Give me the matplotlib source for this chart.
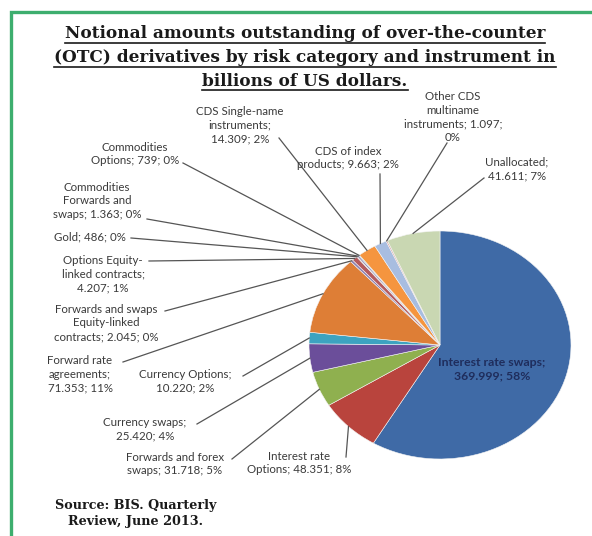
import matplotlib.pyplot as plt
from matplotlib.patches import Rectangle
from matplotlib.lines import Line2D
import numpy as np

# OTC derivatives by instrument, billions of USD (BIS Quarterly Review, June 2013)
names = ["Interest rate swaps", "Interest rate Options", "Forwards and forex swaps",
         "Currency swaps", "Currency Options", "Forward rate agreements",
         "Forwards and swaps Equity-linked contracts", "Options Equity-linked contracts",
         "Gold", "Commodities Forwards and swaps", "Commodities Options",
         "CDS Single-name instruments", "CDS of index products",
         "Other CDS multiname instruments", "Unallocated"]
amounts = [369999, 48351, 31718, 25420, 10220, 71353, 2045, 4207,
           486, 1363, 739, 14309, 9663, 1097, 41611]
amount_labels = ["369.999", "48.351", "31.718", "25.420", "10.220", "71.353", "2.045", "4.207",
                 "486", "1.363", "739", "14.309", "9.663", "1.097", "41.611"]
pct_labels = ["58%", "8%", "5%", "4%", "2%", "11%", "0%", "1%",
              "0%", "0%", "0%", "2%", "2%", "0%", "7%"]

colors = ["#3F6AA6", "#B9443D", "#8FB04F", "#6B4E9A", "#3DA3C0", "#DE7E36",
          "#8C7FB0", "#B55A5E", "#9DB06A", "#8E7BAE", "#66B3C8", "#F5953F",
          "#A8BDE0", "#D9A5A3", "#C9D7B2"]

# label text (split into lines), its centre and where the leader line starts (pixels, from top-left)
label_lines = [
    ["Interest rate swaps;", "369.999; 58%"],
    ["Interest rate", "Options; 48.351; 8%"],
    ["Forwards and forex", "swaps; 31.718; 5%"],
    ["Currency swaps;", "25.420; 4%"],
    ["Currency Options;", "10.220; 2%"],
    ["Forward rate", "agreements;", "71.353; 11%"],
    ["Forwards and swaps", "Equity-linked", "contracts; 2.045; 0%"],
    ["Options Equity-", "linked contracts;", "4.207; 1%"],
    ["Gold; 486; 0%"],
    ["Commodities", "Forwards and", "swaps; 1.363; 0%"],
    ["Commodities", "Options; 739; 0%"],
    ["CDS Single-name", "instruments;", "14.309; 2%"],
    ["CDS of index", "products; 9.663; 2%"],
    ["Other CDS", "multiname", "instruments; 1.097;", "0%"],
    ["Unallocated;", "41.611; 7%"],
]
label_pos = [(492, 369), (299, 463), (175, 464), (145, 429), (185, 381), (80, 374),
             (106, 323), (103, 274), (90, 237), (97, 201), (135, 154), (240, 125),
             (348, 158), (453, 117), (517, 169)]
leader_start = [None, (346, 457), (232, 459), (197, 424), (243, 376), (123, 362),
                (165, 311), (149, 261), (131, 238), (147, 219), (183, 163), (279, 138),
                (380, 174), (447, 143), (484, 178)]

W, H = 592, 536
CX, CY, RX, RY = 440, 345, 131, 114


def to_data(px, py):
    return (px - CX) / RX, (CY - py) / RY


plt.rcParams['font.family'] = ['Lato', 'DejaVu Sans']
fig = plt.figure(figsize=(W / 100, H / 100), dpi=100)
ax = fig.add_axes([0, 0, 1, 1])

wedges, _ = ax.pie(amounts, colors=colors, startangle=90, counterclock=False,
                   wedgeprops=dict(linewidth=0.4, edgecolor="#f4f4f4"))
ax.set_aspect('auto')
ax.set_xlim(to_data(0, 0)[0], to_data(W, 0)[0])
ax.set_ylim(to_data(0, H)[1], to_data(0, 0)[1])
ax.axis('off')

for i, w in enumerate(wedges):
    tx, ty = to_data(*label_pos[i])
    if i == 0:
        ax.text(tx, ty, "\n".join(label_lines[i]), ha='center', va='center', fontsize=8.8,
                fontweight='bold', color="#1F2D5C", linespacing=1.25)
        continue
    ax.text(tx, ty, "\n".join(label_lines[i]), ha='center', va='center', fontsize=8.3,
            color="#3a3a3a", linespacing=1.32)
    mid = np.deg2rad((w.theta1 + w.theta2) / 2)
    sx, sy = to_data(*leader_start[i])
    ax.plot([sx, np.cos(mid)], [sy, np.sin(mid)], color="#555555", linewidth=0.9)

# title lines, each underlined
title_lines = ["Notional amounts outstanding of over-the-counter",
               "(OTC) derivatives by risk category and instrument in",
               "billions of US dollars."]
title_y = [34, 58, 81]
title_objs = []
for line, y in zip(title_lines, title_y):
    t = fig.text(305 / W, 1 - y / H, line, ha='center', va='center', fontsize=12.2,
                 fontweight='bold', family='DejaVu Serif', color="#1a1a1a")
    title_objs.append(t)

fig.text(136 / W, 1 - 514 / H, "Source: BIS. Quarterly\nReview, June 2013.", ha='center',
         va='center', fontsize=9.2, fontweight='bold', family='DejaVu Serif',
         color="#1a1a1a", linespacing=1.3)

fig.canvas.draw()
renderer = fig.canvas.get_renderer()
for t in title_objs:
    bb = t.get_window_extent(renderer)
    y0 = bb.y0 - 0.5
    fig.add_artist(Line2D([bb.x0 / W, bb.x1 / W], [y0 / H, y0 / H], color="#1a1a1a",
                          linewidth=1.2, transform=fig.transFigure))

# green frame
fig.add_artist(Rectangle((10.5 / W, -0.1), 1.2, 1 - 11.5 / H + 0.1, fill=False,
                         edgecolor="#3DAE6E", linewidth=2.4, transform=fig.transFigure))

fig.savefig("out.png", dpi=100)
